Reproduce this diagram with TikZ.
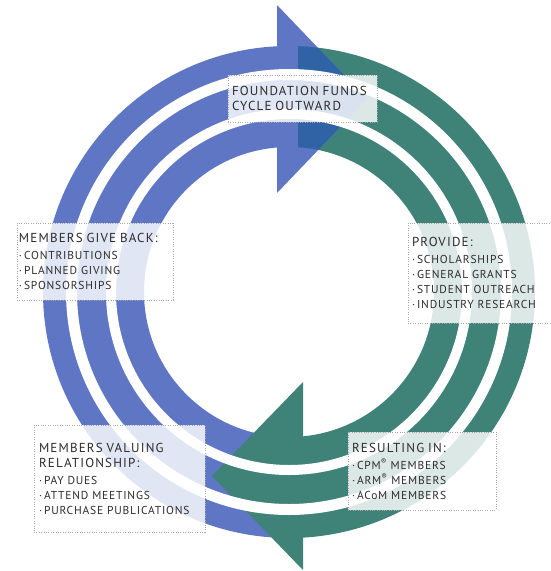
\documentclass[tikz,border=0pt]{standalone}
\usepackage{fontspec}
\setmainfont{PT Sans}
\newfontfamily\hdfam[LetterSpace=9]{PT Sans}
\newfontfamily\itfam[LetterSpace=7]{PT Sans}
\definecolor{ringblue}{HTML}{5E76C4}
\definecolor{ringgreen}{HTML}{3F8277}
\definecolor{ringdark}{HTML}{2F63A6}
\definecolor{lbltext}{HTML}{2C2C2C}
\newcommand{\hdfont}{\hdfam\fontsize{13}{16}\selectfont}
\newcommand{\itfont}{\itfam\fontsize{11.5}{15}\selectfont}
\newcommand{\itm}{\textperiodcentered\hspace{2pt}}
\tikzset{
	lblbox/.style={draw=gray!70, dash pattern=on 0.8pt off 1.6pt, line width=0.7pt,
		fill=white, fill opacity=0.82, text opacity=1, text=lbltext,
		align=left, inner sep=0pt, font=\itfont},
	ring/.style={even odd rule}
}
\begin{document}
\begin{tikzpicture}[x=1pt, y=-1pt]
	\useasboundingbox (0,0) rectangle (550,571);
	\coordinate (ctr) at (289,292);
	% left half, blue
	\begin{scope}
		\clip (0,0) rectangle (298,571);
		\fill[ringblue, ring] (ctr) circle[radius=246pt] (ctr) circle[radius=145pt];
	\end{scope}
	% right half, green
	\begin{scope}
		\clip (298,0) rectangle (550,571);
		\fill[ringgreen, ring] (ctr) circle[radius=246pt] (ctr) circle[radius=145pt];
	\end{scope}
	% arrow heads
	\coordinate (bluetop) at (277,5);
	\coordinate (bluetip) at (367,99);
	\coordinate (bluebot) at (277,193);
	\fill[ringblue] (bluetop) -- (bluetip) -- (bluebot) -- cycle;
	\begin{scope}
		\clip (bluetop) -- (bluetip) -- (bluebot) -- cycle;
		\clip (298,0) rectangle (550,571);
		\fill[ringdark, ring] (ctr) circle[radius=246pt] (ctr) circle[radius=145pt];
	\end{scope}
	\coordinate (greentop) at (303,382);
	\coordinate (greentip) at (212,476);
	\coordinate (greenbot) at (303,570);
	\fill[ringgreen] (greentop) -- (greentip) -- (greenbot) -- cycle;
	% white gaps between the three bands
	\fill[white, ring] (ctr) circle[radius=223pt] (ctr) circle[radius=212pt];
	\fill[white, ring] (ctr) circle[radius=183pt] (ctr) circle[radius=173pt];
	% labels
	\node[lblbox, minimum width=149pt, minimum height=47pt, text width=141pt] (fundsbox) at (302.5,98.5)
		{\hdfont FOUNDATION FUNDS\\CYCLE OUTWARD};
	\node[lblbox, minimum width=156pt, minimum height=77pt, text width=152pt] (givebox) at (95,261.5)
		{{\hdfont MEMBERS GIVE BACK:}\\[2pt]
		\itm CONTRIBUTIONS\\\itm PLANNED GIVING\\\itm SPONSORSHIPS};
	\node[lblbox, minimum width=148pt, minimum height=100pt, text width=140pt] (providebox) at (482,273)
		{{\hdfont PROVIDE:}\\[2pt]
		\itm SCHOLARSHIPS\\\itm GENERAL GRANTS\\\itm STUDENT OUTREACH\\\itm INDUSTRY RESEARCH};
	\node[lblbox, minimum width=171pt, minimum height=107pt, text width=161pt] (valuebox) at (119.5,478.5)
		{{\hdfont MEMBERS VALUING\\RELATIONSHIP:}\\[2pt]
		\itm PAY DUES\\\itm ATTEND MEETINGS\\\itm PURCHASE PUBLICATIONS};
	\node[lblbox, minimum width=148pt, minimum height=78pt, text width=140pt] (resultbox) at (422,471)
		{{\hdfont RESULTING IN:}\\[2pt]
		\itm CPM\textsuperscript{®} MEMBERS\\\itm ARM\textsuperscript{®} MEMBERS\\\itm ACoM MEMBERS};
\end{tikzpicture}
\end{document}
